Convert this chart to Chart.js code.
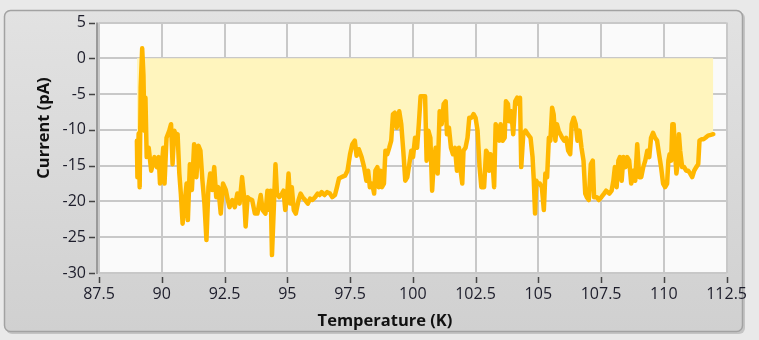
<!DOCTYPE html>
<html>
<head>
<meta charset="utf-8">
<script src="https://cdn.jsdelivr.net/npm/chart.js@4/dist/chart.umd.min.js"></script>
<style>
  html, body { margin: 0; padding: 0; background: #e9e9e9; }
  #wrap { width: 759px; height: 340px; }
  canvas { display: block; }
</style>
</head>
<body>
<div id="wrap"><canvas id="graph" width="759" height="340"></canvas></div>
<script>
// Sweep data: sample temperature (K) and measured current (pA)
const temperature = [
  89.01, 89.03, 89.08, 89.12, 89.16, 89.22, 89.27, 89.31, 89.35, 89.40,
  89.48, 89.58, 89.71, 89.80, 89.88, 89.93, 90.01, 90.06, 90.11, 90.19,
  90.30, 90.37, 90.43, 90.50, 90.57, 90.63, 90.70, 90.76, 90.83, 90.91,
  90.99, 91.04, 91.12, 91.20, 91.29, 91.38, 91.46, 91.54, 91.62, 91.70,
  91.78, 91.86, 91.93, 92.01, 92.09, 92.17, 92.25, 92.35, 92.44, 92.55,
  92.63, 92.70, 92.81, 92.91, 93.01, 93.10, 93.20, 93.28, 93.34, 93.42,
  93.47, 93.60, 93.71, 93.81, 93.94, 94.02, 94.13, 94.21, 94.29, 94.34,
  94.39, 94.47, 94.53, 94.59, 94.68, 94.79, 94.85, 94.92, 94.99, 95.05,
  95.12, 95.18, 95.26, 95.34, 95.45, 95.53, 95.61, 95.71, 95.82, 95.91,
  96.00, 96.11, 96.21, 96.29, 96.37, 96.48, 96.59, 96.70, 96.79, 96.90,
  96.98, 97.06, 97.16, 97.30, 97.40, 97.50, 97.59, 97.69, 97.76, 97.85,
  97.96, 98.06, 98.15,
  98.22, 98.29, 98.38, 98.46, 98.51, 98.59, 98.64, 98.72, 98.77, 98.85,
  98.91, 98.98, 99.06, 99.14, 99.21, 99.28, 99.36, 99.46, 99.54, 99.62,
  99.70, 99.78, 99.86, 99.94, 100.01, 100.09, 100.17, 100.24, 100.31, 100.41,
  100.49, 100.55, 100.62, 100.70, 100.77, 100.83, 100.91, 100.99, 101.07, 101.15,
  101.23, 101.31, 101.36, 101.44, 101.52, 101.60, 101.68, 101.76, 101.84, 101.92,
  101.97, 102.02, 102.10, 102.18, 102.25, 102.34, 102.42, 102.50, 102.58, 102.66,
  102.73, 102.84, 102.92,
  102.97, 103.04, 103.10, 103.17, 103.24, 103.30, 103.37, 103.45, 103.50, 103.58,
  103.66, 103.71, 103.79, 103.84, 103.92, 104.00, 104.08, 104.16, 104.23, 104.27,
  104.32, 104.40, 104.49, 104.58, 104.69, 104.77, 104.82, 104.87, 104.92, 104.98,
  105.06, 105.14, 105.22, 105.28, 105.35, 105.42, 105.48, 105.55, 105.61, 105.68,
  105.74, 105.81, 105.88, 105.95, 106.03, 106.11, 106.19, 106.27, 106.33, 106.41,
  106.49, 106.56, 106.64, 106.72, 106.80, 106.87, 106.93, 107.01, 107.09, 107.17,
  107.22, 107.33, 107.41, 107.51, 107.62, 107.70,
  107.83, 107.92, 107.99, 108.05, 108.12, 108.19, 108.25, 108.32, 108.39, 108.47,
  108.54, 108.62, 108.70, 108.78, 108.86, 108.94, 109.02, 109.10, 109.18, 109.26,
  109.34, 109.42, 109.49, 109.57, 109.65, 109.73, 109.81, 109.89, 109.97, 110.05,
  110.13, 110.18, 110.23, 110.29, 110.34, 110.39, 110.45, 110.50, 110.55, 110.60,
  110.65, 110.73, 110.81, 110.89, 110.97, 111.05, 111.13, 111.21, 111.29, 111.37,
  111.42, 111.50, 111.58, 111.66, 111.76, 111.87, 111.97
];

const current = [
  -11.5, -16.6, -10.5, -18.0, -4.1, 1.4, -2.3, -10.1, -5.5, -13.8,
  -12.5, -15.7, -13.8, -15.2, -13.8, -17.5, -14.7, -12.5, -17.5, -11.1,
  -10.1, -9.2, -14.8, -10.1, -11.1, -10.6, -16.1, -18.9, -23.1, -20.3,
  -17.5, -22.6, -14.8, -18.4, -12.0, -16.6, -12.2, -12.9, -17.1, -20.3,
  -25.4, -18.0, -16.1, -18.4, -15.2, -19.4, -18.0, -21.7, -17.5, -18.4,
  -19.8, -20.8, -19.8, -20.8, -18.9, -20.3, -16.6, -19.4, -23.5, -19.4,
  -19.6, -19.8, -21.7, -21.7, -19.1, -21.2, -21.7, -18.5, -21.2, -18.5,
  -27.5, -20.3, -14.8, -18.9, -19.4, -18.9, -18.5, -21.2, -19.4, -16.1,
  -20.3, -18.0, -21.2, -21.7, -19.8, -18.9, -19.4, -19.8, -20.3, -19.6,
  -19.8, -19.4, -18.9, -19.1, -18.7, -19.1, -18.7, -18.9, -19.4, -19.1,
  -18.0, -16.8, -16.6, -16.4, -15.7, -13.4, -12.0, -11.5, -13.6, -12.7,
  -13.8, -15.2, -17.1,
  -15.7, -18.0, -17.5, -18.9, -15.7, -15.2, -18.0, -15.7, -18.0, -17.5,
  -12.9, -13.4, -12.5, -11.5, -7.8, -7.6, -9.7, -7.4, -9.2, -12.9,
  -17.1, -16.6, -14.8, -12.9, -13.8, -11.1, -12.5, -9.2, -5.3, -5.3,
  -5.3, -14.3, -10.1, -11.1, -18.5, -14.8, -12.5, -16.1, -7.4, -9.2,
  -6.4, -6.0, -10.6, -9.7, -12.5, -13.4, -12.5, -15.7, -12.5, -16.1,
  -17.5, -12.9, -12.5, -11.1, -8.3, -8.3, -7.8, -8.3, -10.1, -15.2,
  -18.0, -18.0, -12.9,
  -13.2, -15.7, -13.4, -14.3, -18.0, -9.2, -9.7, -11.5, -9.2, -11.5,
  -11.1, -6.0, -6.4, -8.8, -7.4, -10.6, -6.0, -5.5, -6.4, -5.5,
  -15.2, -10.6, -10.1, -10.6, -11.1, -13.8, -17.1, -21.7, -17.1, -17.5,
  -17.5, -18.0, -21.2, -16.1, -16.6, -11.1, -11.5, -6.9, -7.8, -11.5,
  -9.2, -10.1, -10.6, -11.1, -11.5, -11.1, -12.9, -13.4, -9.2, -8.3,
  -9.2, -11.5, -10.1, -12.5, -14.3, -18.9, -19.4, -19.8, -14.8, -14.3,
  -19.4, -19.4, -19.8, -19.4, -18.9, -18.5,
  -18.9, -18.5, -17.1, -15.2, -18.0, -14.3, -13.8, -17.1, -13.8, -15.2,
  -13.8, -14.3, -17.5, -15.7, -17.1, -12.0, -16.6, -16.6, -15.2, -14.3,
  -12.9, -13.8, -11.1, -10.4, -11.1, -11.5, -13.4, -15.2, -17.5, -18.0,
  -17.5, -14.3, -13.4, -14.3, -9.2, -9.2, -13.4, -16.1, -14.8, -10.6,
  -12.9, -15.2, -15.2, -15.7, -15.7, -16.1, -16.6, -15.7, -15.2, -14.8,
  -11.5, -11.3, -11.3, -11.1, -10.8, -10.7, -10.6
];

// Axis ticks and titles
const xTickValues = [87.5, 90, 92.5, 95, 97.5, 100, 102.5, 105, 107.5, 110, 112.5];
const yTickValues = [5, 0, -5, -10, -15, -20, -25, -30];
const xAxisTitle = 'Temperature (K)';
const yAxisTitle = 'Current (pA)';

const points = temperature.map((t, i) => ({ x: t, y: current[i] }));

const FONT_FAMILY = '"Open Sans", "Noto Sans", sans-serif';
const LABEL_COLOR = '#1d1d2b';
const GRID_COLOR = '#c8c8c8';

function roundRect(ctx, x, y, w, h, r) {
  ctx.beginPath();
  ctx.moveTo(x + r, y);
  ctx.lineTo(x + w - r, y);
  ctx.arcTo(x + w, y, x + w, y + r, r);
  ctx.lineTo(x + w, y + h - r);
  ctx.arcTo(x + w, y + h, x + w - r, y + h, r);
  ctx.lineTo(x + r, y + h);
  ctx.arcTo(x, y + h, x, y + h - r, r);
  ctx.lineTo(x, y + r);
  ctx.arcTo(x, y, x + r, y, r);
  ctx.closePath();
}

// Panel frame, plot background, tick marks and axis titles
const frame = {
  id: 'frame',
  beforeDraw(chart) {
    const { ctx, chartArea: a } = chart;
    ctx.save();
    ctx.fillStyle = '#e9e9e9';
    ctx.fillRect(0, 0, chart.width, chart.height);

    // drop shadow
    roundRect(ctx, 6, 12, 739, 322, 6);
    ctx.fillStyle = '#c4c4c4';
    ctx.fill();

    const g = ctx.createLinearGradient(0, 10, 0, 332);
    g.addColorStop(0, '#e2e2e2');
    g.addColorStop(1, '#d0d0d0');
    roundRect(ctx, 4.5, 10.5, 738, 321, 6);
    ctx.fillStyle = g;
    ctx.fill();
    ctx.lineWidth = 1.5;
    ctx.strokeStyle = '#a2a2a2';
    ctx.stroke();

    ctx.fillStyle = '#fafafa';
    ctx.fillRect(a.left, a.top, a.right - a.left, a.bottom - a.top);
    ctx.restore();
  },
  afterDraw(chart) {
    const { ctx, chartArea: a } = chart;
    const xs = chart.scales.x, ys = chart.scales.y;
    ctx.save();
    // left axis rail
    ctx.strokeStyle = '#9a9a9a';
    ctx.lineWidth = 2;
    ctx.beginPath();
    ctx.moveTo(a.left - 2, a.top);
    ctx.lineTo(a.left - 2, a.bottom + 1);
    ctx.stroke();

    ctx.strokeStyle = '#444';
    ctx.lineWidth = 1.5;
    ctx.beginPath();
    yTickValues.forEach(v => {
      const py = Math.round(ys.getPixelForValue(v)) + 0.5;
      ctx.moveTo(a.left - 10, py);
      ctx.lineTo(a.left - 4, py);
    });
    xTickValues.forEach(v => {
      const px = Math.round(xs.getPixelForValue(v)) + 0.5;
      ctx.moveTo(px, a.bottom + 4);
      ctx.lineTo(px, a.bottom + 10);
    });
    ctx.stroke();

    ctx.fillStyle = '#111';
    ctx.font = 'bold 16.5px ' + FONT_FAMILY;
    ctx.textAlign = 'center';
    ctx.textBaseline = 'middle';
    ctx.fillText(xAxisTitle, 385, 321);

    ctx.translate(44, 128);
    ctx.rotate(-Math.PI / 2);
    ctx.fillText(yAxisTitle, 0, 0);
    ctx.restore();
  }
};

new Chart(document.getElementById('graph'), {
  type: 'line',
  data: {
    datasets: [{
      data: points,
      borderColor: '#ffb700',
      borderWidth: 4.5,
      borderJoinStyle: 'round',
      borderCapStyle: 'round',
      backgroundColor: '#fff5be',
      fill: 'origin',
      pointRadius: 0,
      tension: 0
    }]
  },
  options: {
    responsive: false,
    animation: false,
    devicePixelRatio: 1,
    layout: { padding: { left: 0, right: 28, top: 20, bottom: 0 } },
    plugins: { legend: { display: false }, tooltip: { enabled: false } },
    scales: {
      x: {
        type: 'linear',
        min: 87.5,
        max: 112.5,
        afterBuildTicks: s => { s.ticks = xTickValues.map(v => ({ value: v })); },
        afterFit: s => { s.height = 67; },
        ticks: {
          callback: v => String(v),
          color: LABEL_COLOR,
          font: { family: FONT_FAMILY, size: 16 },
          padding: 12,
          maxRotation: 0,
          autoSkip: false
        },
        grid: { color: GRID_COLOR, lineWidth: 2, drawTicks: false },
        border: { display: false }
      },
      y: {
        min: -30,
        max: 5,
        afterBuildTicks: s => { s.ticks = yTickValues.map(v => ({ value: v })); },
        afterFit: s => { s.width = 99; },
        ticks: {
          callback: v => String(v),
          color: LABEL_COLOR,
          font: { family: FONT_FAMILY, size: 16 },
          padding: 13,
          autoSkip: false
        },
        grid: { color: GRID_COLOR, lineWidth: 2, drawTicks: false },
        border: { display: false }
      }
    }
  },
  plugins: [frame]
});
</script>
</body>
</html>
